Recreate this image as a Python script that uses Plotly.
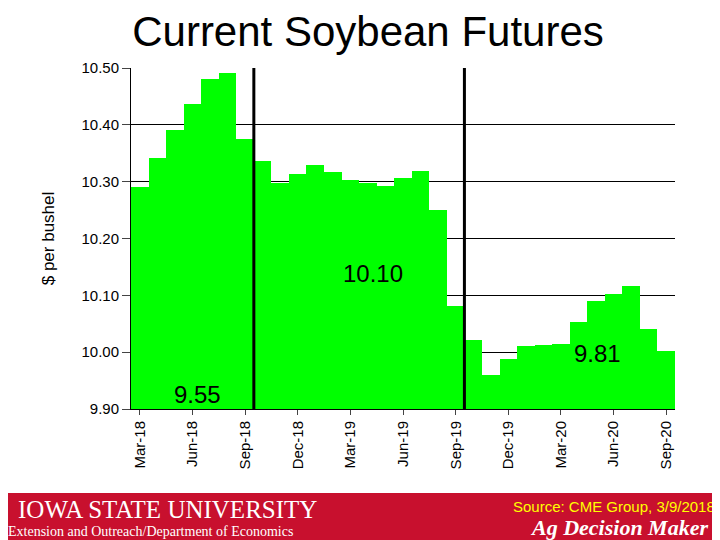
import plotly.graph_objects as go

months = ["Mar-18","Apr-18","May-18","Jun-18","Jul-18","Aug-18","Sep-18","Oct-18","Nov-18","Dec-18",
          "Jan-19","Feb-19","Mar-19","Apr-19","May-19","Jun-19","Jul-19","Aug-19","Sep-19","Oct-19",
          "Nov-19","Dec-19","Jan-20","Feb-20","Mar-20","Apr-20","May-20","Jun-20","Jul-20","Aug-20","Sep-20"]
prices = [10.29,10.342,10.391,10.437,10.481,10.491,10.375,10.336,10.298,10.313,
          10.329,10.317,10.303,10.298,10.292,10.306,10.319,10.25,10.081,10.021,
          9.96,9.988,10.011,10.012,10.014,10.053,10.09,10.102,10.116,10.04,10.002]
tick_labels = ["Mar-18","Jun-18","Sep-18","Dec-18","Mar-19","Jun-19","Sep-19","Dec-19","Mar-20","Jun-20","Sep-20"]
yticks = [9.90,10.00,10.10,10.20,10.30,10.40,10.50]

x = list(range(len(months)))
fig = go.Figure(go.Bar(x=x, y=[p-9.90 for p in prices], base=9.90, marker_color="#00ff00",
                       marker_line_width=0, width=1.0))
fig.update_layout(
    width=720, height=540, margin=dict(l=123, r=53, t=60, b=139),
    paper_bgcolor="white", plot_bgcolor="white", showlegend=False, bargap=0,
    font=dict(family="Arial, Liberation Sans", color="black"),
    title=dict(text="Current Soybean Futures", x=0.5, xanchor="center", y=0.985, yanchor="top",
               font=dict(size=42)),
)
fig.update_xaxes(range=[-0.5, len(months)-0.5], tickvals=[months.index(t) for t in tick_labels],
                 ticktext=tick_labels, tickangle=-90, tickfont=dict(size=15), showgrid=False,
                 showline=True, linecolor="black", ticks="outside", ticklen=5, zeroline=False)
fig.update_yaxes(range=[9.90, 10.50], tickvals=yticks, ticktext=[f"{v:.2f}" for v in yticks],
                 tickfont=dict(size=15), showgrid=True, gridcolor="black", gridwidth=1,
                 showline=True, linecolor="black", ticks="outside", ticklen=8,
                 title=dict(text="$ per bushel", font=dict(size=17), standoff=22))
for xv in [6.5, 18.5]:
    fig.add_shape(type="line", xref="x", yref="y", x0=xv, x1=xv, y0=9.90, y1=10.50,
                  line=dict(color="black", width=3))
for txt, xv, yv in [("9.55", 3.3, 9.926), ("10.10", 13.3, 10.139), ("9.81", 26.1, 9.998)]:
    fig.add_annotation(text=txt, x=xv, y=yv, xref="x", yref="y", showarrow=False,
                       font=dict(size=24))
# footer band
fig.add_shape(type="rect", xref="paper", yref="paper", x0=-0.3, x1=1.2, y0=-0.5, y1=-0.246,
              fillcolor="#c8102e", line_width=0, layer="above")
fig.add_annotation(text="IOWA STATE UNIVERSITY", xref="paper", yref="paper", x=-0.211, y=-0.25,
                   xanchor="left", yanchor="top", showarrow=False,
                   font=dict(family="Liberation Serif", size=25, color="white"))
fig.add_annotation(text="Extension and Outreach/Department of Economics", xref="paper", yref="paper",
                   x=-0.229, y=-0.33, xanchor="left", yanchor="top", showarrow=False,
                   font=dict(family="Liberation Serif", size=14, color="white"))
fig.add_annotation(text="Source: CME Group, 3/9/2018", xref="paper", yref="paper", x=1.077, y=-0.256,
                   xanchor="right", yanchor="top", showarrow=False,
                   font=dict(size=15, color="yellow"))
fig.add_annotation(text="<i><b>Ag Decision Maker</b></i>", xref="paper", yref="paper", x=1.064, y=-0.305,
                   xanchor="right", yanchor="top", showarrow=False,
                   font=dict(family="Liberation Serif", size=22, color="white"))
fig.write_html("out.html")
